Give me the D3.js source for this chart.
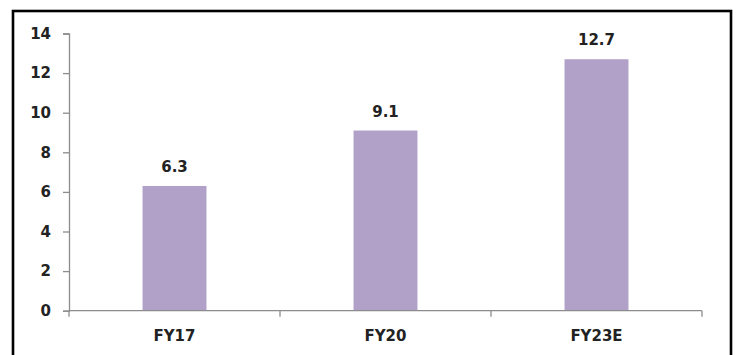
<!DOCTYPE html>
<html>
<head>
<meta charset="utf-8">
<script src="https://cdn.jsdelivr.net/npm/d3@7"></script>
<style>
  html, body { margin: 0; padding: 0; background: #fff; }
  svg { display: block; }
  text { font-family: "DejaVu Sans", Verdana, sans-serif; font-weight: bold; fill: #222; }
</style>
</head>
<body>
<script>
const categories = ["FY17", "FY20", "FY23E"];
const values = [6.3, 9.1, 12.7];
const yTicks = [0, 2, 4, 6, 8, 10, 12, 14];

const W = 736, H = 355;
const svg = d3.select("body").append("svg").attr("width", W).attr("height", H);

// frame
svg.append("rect")
  .attr("x", 13).attr("y", 11).attr("width", 718).attr("height", 360)
  .attr("fill", "#fff").attr("stroke", "#000").attr("stroke-width", 2.6);

const x0 = 69, x1 = 702, yTop = 33.5, yBot = 310.7;

const x = d3.scaleBand().domain(categories).range([x0, x1]).paddingInner(0.697).paddingOuter(0.3485);
const y = d3.scaleLinear().domain([0, 14]).range([yBot, yTop]);

// bars
svg.selectAll("rect.bar").data(values).enter().append("rect")
  .attr("class", "bar")
  .attr("x", (d, i) => x(categories[i]))
  .attr("width", x.bandwidth())
  .attr("y", d => y(d))
  .attr("height", d => y(0) - y(d))
  .attr("fill", "#b1a0c8");

// value labels
svg.selectAll("text.val").data(values).enter().append("text")
  .attr("class", "val")
  .attr("x", (d, i) => x(categories[i]) + x.bandwidth() / 2)
  .attr("y", d => y(d) - 14)
  .attr("text-anchor", "middle")
  .attr("font-size", 15)
  .text(d => d.toFixed(1));

// y axis
const yAxis = d3.axisLeft(y).tickValues(yTicks).tickSize(6).tickPadding(12).tickFormat(d3.format("d"));
const gy = svg.append("g").attr("transform", `translate(${x0},0)`).call(yAxis);
gy.select(".domain").attr("stroke", "#8c8c8c").attr("stroke-width", 1.3);
gy.selectAll(".tick line").attr("stroke", "#8c8c8c").attr("stroke-width", 1.3);
gy.selectAll(".tick text").attr("font-size", 15).attr("font-family", "DejaVu Sans, Verdana, sans-serif")
  .attr("font-weight", "bold").attr("fill", "#222");

// x axis line + boundary ticks
const gx = svg.append("g");
gx.append("line").attr("x1", x0).attr("x2", x1).attr("y1", yBot).attr("y2", yBot)
  .attr("stroke", "#8c8c8c").attr("stroke-width", 1.3);
const step = x.step();
const bounds = [x0].concat(categories.map(c => x(c) - x.paddingInner() * step / 2 + step));
gx.selectAll("line.bt").data(bounds).enter().append("line")
  .attr("class", "bt")
  .attr("x1", d => d).attr("x2", d => d)
  .attr("y1", yBot).attr("y2", yBot + 6)
  .attr("stroke", "#8c8c8c").attr("stroke-width", 1.3);

gx.selectAll("text.cat").data(categories).enter().append("text")
  .attr("class", "cat")
  .attr("x", d => x(d) + x.bandwidth() / 2)
  .attr("y", 341)
  .attr("text-anchor", "middle")
  .attr("font-size", 15)
  .text(d => d);
</script>
</body>
</html>
